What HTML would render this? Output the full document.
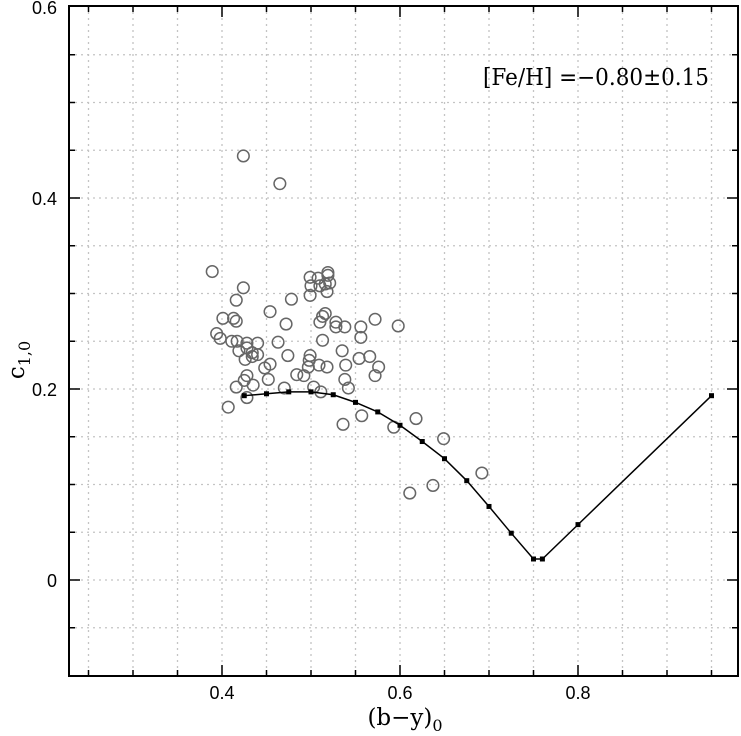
<!DOCTYPE html>
<html><head><meta charset="utf-8"><style>
html,body{margin:0;padding:0;background:#fff;}
svg{display:block;font-family:"Liberation Sans","DejaVu Sans",sans-serif;}
</style></head><body>
<svg id="chart" width="741" height="736" xmlns="http://www.w3.org/2000/svg">
<g id="grid"></g>
<g id="ticks"></g>
<rect x="69" y="6" width="669" height="670" fill="none" stroke="#000" stroke-width="2"/>
<g id="points"></g>
<g id="curve"></g>
<text x="596" y="85" font-size="23" text-anchor="middle" font-family="'DejaVu Serif','Liberation Serif',serif" textLength="226" lengthAdjust="spacingAndGlyphs">[Fe/H] =−0.80±0.15</text>
<text x="405" y="725" font-size="23" text-anchor="middle" font-family="'DejaVu Serif','Liberation Serif',serif">(b−y)<tspan font-size="16" dy="6">0</tspan></text>
<text transform="translate(24,360) rotate(-90)" font-size="23" text-anchor="middle" font-family="'DejaVu Serif','Liberation Serif',serif">c<tspan font-size="16" dy="6">1,0</tspan></text>
</svg>
<script>
const xTicks=[0.4,0.6,0.8];
const yTicks=[0,0.2,0.4,0.6];
const xTickLabels=["0.4","0.6","0.8"];
const yTickLabels=["0","0.2","0.4","0.6"];
const pointsX=[0.424,0.465,0.389,0.424,0.416,0.478,0.499,0.508,0.519,0.519,0.500,0.510,0.516,0.521,0.499,0.518,0.401,0.413,0.416,0.454,0.472,0.516,0.513,0.510,0.528,0.528,0.538,0.556,0.556,0.572,0.598,0.394,0.398,0.411,0.417,0.428,0.440,0.419,0.428,0.434,0.440,0.426,0.434,0.463,0.513,0.535,0.474,0.499,0.498,0.497,0.509,0.518,0.539,0.554,0.566,0.576,0.572,0.454,0.448,0.484,0.492,0.452,0.428,0.425,0.435,0.416,0.470,0.503,0.511,0.538,0.542,0.428,0.407,0.557,0.618,0.536,0.593,0.649,0.692,0.637,0.611];
const pointsY=[0.444,0.415,0.323,0.306,0.293,0.294,0.317,0.316,0.322,0.319,0.308,0.308,0.310,0.311,0.298,0.302,0.274,0.274,0.271,0.281,0.268,0.279,0.276,0.270,0.270,0.265,0.265,0.265,0.254,0.273,0.266,0.258,0.253,0.250,0.250,0.248,0.248,0.240,0.243,0.238,0.236,0.231,0.234,0.249,0.251,0.240,0.235,0.235,0.230,0.223,0.225,0.223,0.225,0.232,0.234,0.223,0.214,0.226,0.222,0.215,0.214,0.210,0.214,0.209,0.204,0.202,0.201,0.202,0.197,0.210,0.201,0.191,0.181,0.172,0.169,0.163,0.160,0.148,0.112,0.099,0.091];
const curveX=[0.425,0.45,0.475,0.5,0.525,0.55,0.575,0.6,0.625,0.65,0.675,0.7,0.725,0.75,0.76,0.8,0.95];
const curveY=[0.193,0.195,0.197,0.197,0.194,0.186,0.176,0.162,0.145,0.127,0.104,0.077,0.049,0.022,0.022,0.058,0.193];

const NS="http://www.w3.org/2000/svg";
const X0=69,X1=738,Y0=6,Y1=676;
function sx(v){return 222+(v-0.4)*890;}
function sy(v){return 580-v*955;}
function mk(tag,attrs,parent){const e=document.createElementNS(NS,tag);for(const k in attrs)e.setAttribute(k,attrs[k]);parent.appendChild(e);return e;}
const grid=document.getElementById('grid'),ticks=document.getElementById('ticks');
for(let i=5;i<=19;i++){const v=i*0.05;const x=sx(v);if(x<=X0+1||x>=X1-1)continue;
 const l=mk('line',{x1:x,x2:x,y1:Y0,y2:Y1,stroke:'#c4c4c4','stroke-width':1.3,'stroke-dasharray':'2,4'},grid);
 
 
 const major=xTicks.some(t=>Math.abs(t-v)<1e-6);const len=major?11:6;
 const t1=mk('line',{x1:x,x2:x,y1:Y1,y2:Y1-len,stroke:'#000','stroke-width':1.5},ticks);
 
 
 const t2=mk('line',{x1:x,x2:x,y1:Y0,y2:Y0+len,stroke:'#000','stroke-width':1.5},ticks);
 
 }
for(let i=-1;i<=11;i++){const v=i*0.05;const y=sy(v);if(y<=Y0+1||y>=Y1-1)continue;
 const l=mk('line',{x1:X0,x2:X1,y1:y,y2:y,stroke:'#c4c4c4','stroke-width':1.3,'stroke-dasharray':'2,4'},grid);
 
 
 const major=yTicks.some(t=>Math.abs(t-v)<1e-6);const len=major?11:6;
 const t1=mk('line',{x1:X0,x2:X0+len,y1:y,y2:y,stroke:'#000','stroke-width':1.5},ticks);
 
 
 const t2=mk('line',{x1:X1,x2:X1-len,y1:y,y2:y,stroke:'#000','stroke-width':1.5},ticks);
 
 }
xTicks.forEach((v,i)=>{const t=mk('text',{x:sx(v),y:699,'font-size':18,'text-anchor':'middle'},ticks);t.textContent=xTickLabels[i];
 
 });
yTicks.forEach((v,i)=>{const t=mk('text',{x:57,y:sy(v)+7,'font-size':18,'text-anchor':'end'},ticks);t.textContent=yTickLabels[i];
 
 });
const pts=document.getElementById('points');
pointsX.forEach((v,i)=>{const c=mk('circle',{cx:sx(v),cy:sy(pointsY[i]),r:5.8,fill:'none',stroke:'#666','stroke-width':1.5},pts);
 
 });
const cg=document.getElementById('curve');
const line=mk('polyline',{points:curveX.map((v,i)=>sx(v)+','+sy(curveY[i])).join(' '),fill:'none',stroke:'#000','stroke-width':1.5},cg);


curveX.forEach((v,i)=>{const r=mk('rect',{x:sx(v)-2.5,y:sy(curveY[i])-2.5,width:5,height:5,fill:'#000'},cg);
 
 });
</script>
</body></html>
